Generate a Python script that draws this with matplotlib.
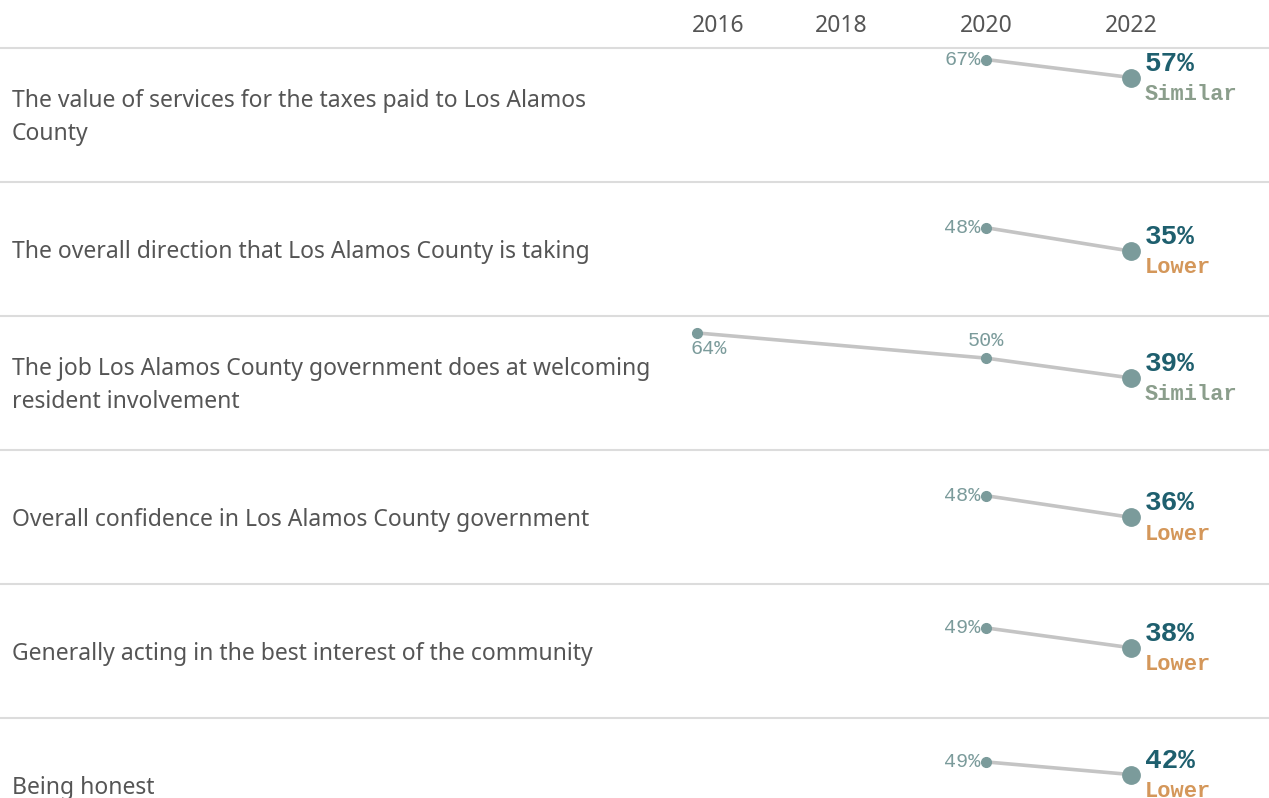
import numpy as np
import matplotlib.pyplot as plt
from matplotlib.transforms import offset_copy

# 数据
categories = [
    "The value of services for the taxes paid to Los Alamos\nCounty",
    "The overall direction that Los Alamos County is taking",
    "The job Los Alamos County government does at welcoming\nresident involvement",
    "Overall confidence in Los Alamos County government",
    "Generally acting in the best interest of the community",
    "Being honest",
]
years = [2016, 2020, 2022]
v2016 = [np.nan, np.nan, 64, np.nan, np.nan, np.nan]
v2020 = [67, 48, 50, 48, 49, 49]
v2022 = [57, 35, 39, 36, 38, 42]
status = ["Similar", "Lower", "Similar", "Lower", "Lower", "Lower"]
year_ticks = [2016, 2018, 2020, 2022]

# 样式
status_color = {"Similar": "#8b9e8c", "Lower": "#d4975a"}
dot_color = "#7b9b9b"
line_color = "#c4c4c4"
text_color = "#555555"
num_color = "#1e5f6e"
mono = "Liberation Mono"
sans = "Noto Sans"

W, H = 1269, 798
top0, row_h = 48, 134
px_per_year = (1131 - 697) / 6
xmin = 2016 - 697 / px_per_year
xmax = 2022 + (W - 1131) / px_per_year

fig = plt.figure(figsize=(W / 100, H / 100), dpi=100)

for i, cat in enumerate(categories):
    top = top0 + row_h * i
    ax = fig.add_axes([0, 1 - (top + row_h) / H, 1, row_h / H])
    ax.set_xlim(xmin, xmax)
    ax.set_ylim(-1, 73.4)
    for s in ["left", "right", "bottom"]:
        ax.spines[s].set_visible(False)
    ax.spines["top"].set_color("#dcdcdc")
    ax.spines["top"].set_linewidth(1.5)
    ax.set_yticks([])
    if i == 0:
        ax.set_xticks(year_ticks)
        ax.set_xticklabels([str(y) for y in year_ticks])
        ax.tick_params(axis="x", top=True, labeltop=True, bottom=False,
                       labelbottom=False, length=0, pad=7,
                       labelsize=16.5, labelcolor=text_color)
        for lab in ax.get_xticklabels():
            lab.set_fontfamily(sans)
        first = ax.get_xticklabels()[0]
        first.set_ha("left")
        first.set_transform(offset_copy(first.get_transform(), fig=fig, x=-4, y=0, units="points"))
    else:
        ax.set_xticks([])

    vals = np.array([v2016[i], v2020[i], v2022[i]], dtype=float)
    mask = ~np.isnan(vals)
    xs = np.array(years)[mask]
    ys = vals[mask]
    ax.plot(xs, ys, color=line_color, lw=2.6, zorder=1, solid_capstyle="butt")
    ax.plot(xs[:-1], ys[:-1], "o", color=dot_color, ms=7, zorder=2)
    ax.plot(xs[-1:], ys[-1:], "o", color=dot_color, ms=12.5, zorder=3)

    # 左侧类别
    ax.text(12 / W, 0.478, cat, transform=ax.transAxes, ha="left", va="center",
            fontsize=16.5, color=text_color, family=sans, linespacing=1.5)

    # 小标签
    if not np.isnan(v2016[i]):
        ax.annotate(f"{int(v2016[i])}%", (2016, v2016[i]), xytext=(-5, -11),
                    textcoords="offset points", ha="left", va="center",
                    fontsize=14.5, color=dot_color, family=mono)
        ax.annotate(f"{int(v2020[i])}%", (2020, v2020[i]), xytext=(0, 13),
                    textcoords="offset points", ha="center", va="center",
                    fontsize=14.5, color=dot_color, family=mono)
    else:
        ax.annotate(f"{int(v2020[i])}%", (2020, v2020[i]), xytext=(-4, 0),
                    textcoords="offset points", ha="right", va="center",
                    fontsize=14.5, color=dot_color, family=mono)

    # 2022 标签
    ax.annotate(f"{int(v2022[i])}%", (2022, v2022[i]), xytext=(10, 10),
                textcoords="offset points", ha="left", va="center",
                fontsize=20, fontweight="bold", color=num_color, family=mono)
    ax.annotate(status[i], (2022, v2022[i]), xytext=(10, -12),
                textcoords="offset points", ha="left", va="center",
                fontsize=15.8, fontweight="bold", color=status_color[status[i]],
                family=mono)

fig.savefig("out.png", dpi=100)
